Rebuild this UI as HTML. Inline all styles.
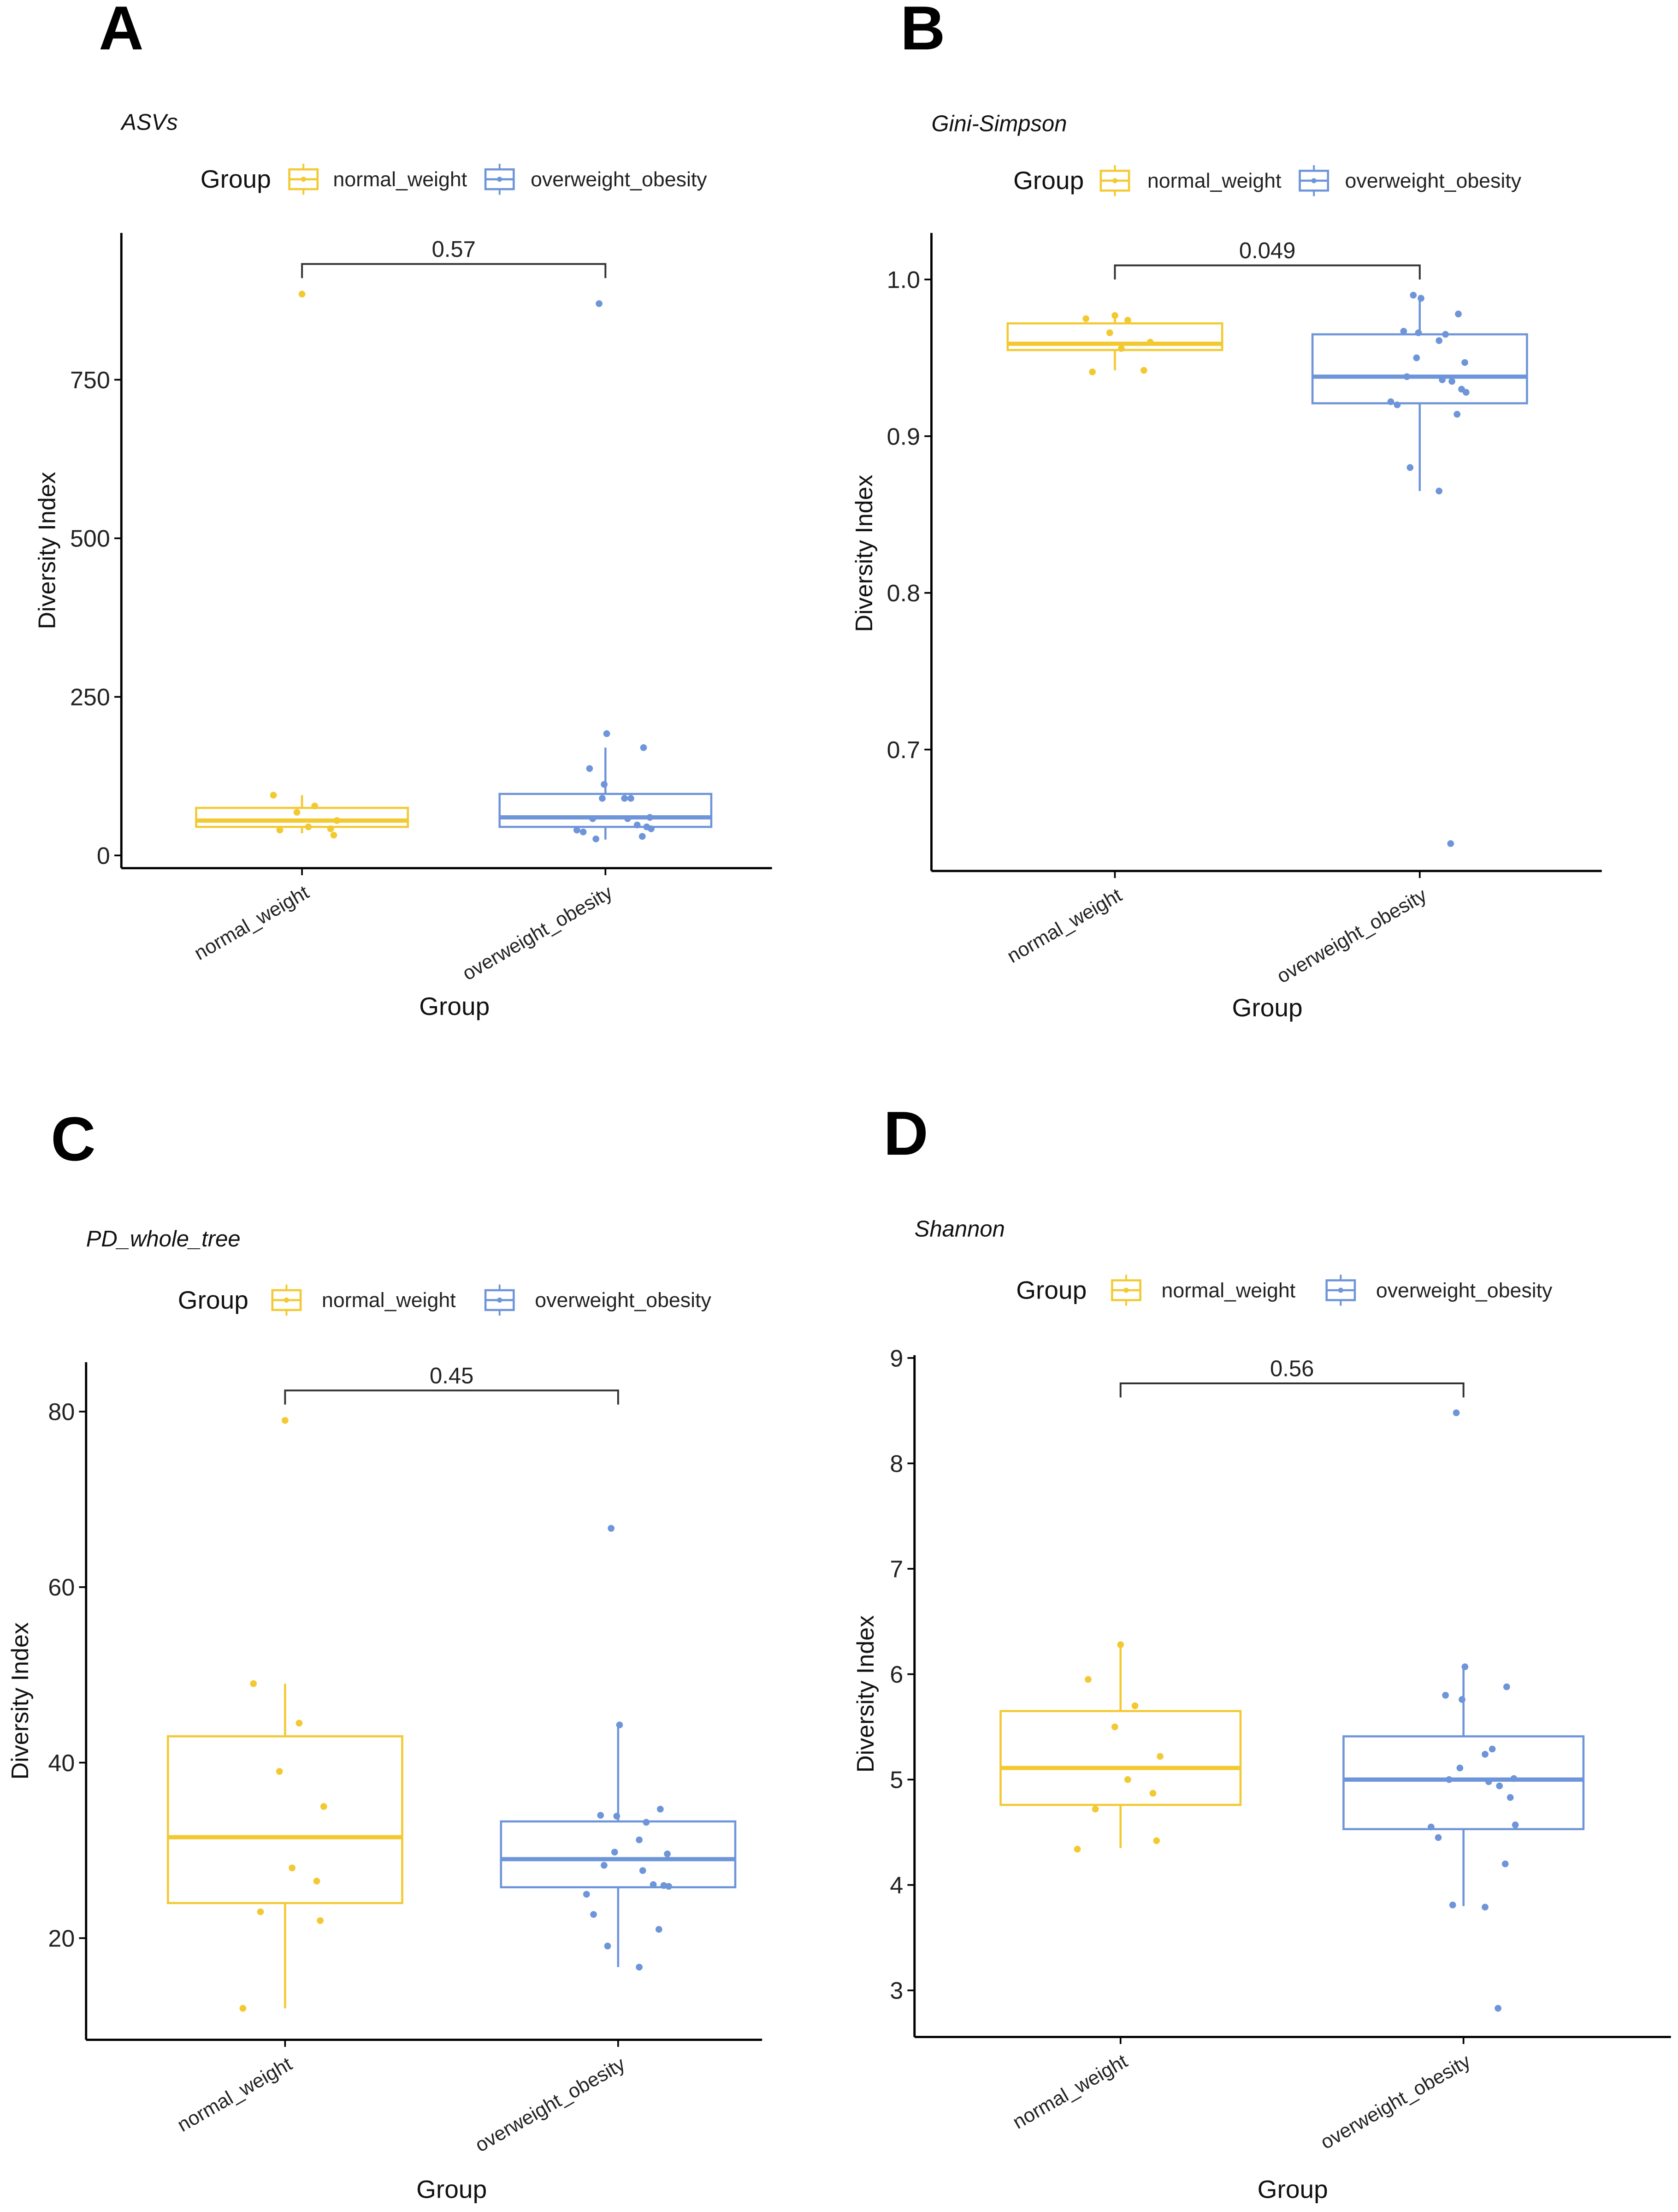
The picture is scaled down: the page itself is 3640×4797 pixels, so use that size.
<!DOCTYPE html>
<html><head><meta charset="utf-8"><style>
html,body{margin:0;padding:0;background:#fff;}
svg{display:block;font-family:"Liberation Sans",sans-serif;}
</style></head><body>
<svg id="fig" width="3640" height="4797" viewBox="0 0 1189 1567" preserveAspectRatio="none" xmlns="http://www.w3.org/2000/svg"></svg>
<script>
// ---- data: group categories ----
const groups = ["normal_weight", "overweight_obesity"];
// ---- Panel A: ASVs ----
const asvNormal = [885, 95, 78, 68, 55, 45, 42, 40, 32];
const asvOver = [870, 192, 170, 137, 112, 90, 90, 90, 60, 58, 58, 48, 45, 42, 40, 37, 30, 26];
const asvBoxNormal = [35, 45, 55, 75, 95];   // lo, q1, med, q3, hi
const asvBoxOver = [25, 45, 60, 97, 170];
const asvTicks = [0, 250, 500, 750];
const asvP = "0.57";
// ---- Panel B: Gini-Simpson ----
const giniNormal = [0.977, 0.975, 0.974, 0.966, 0.960, 0.956, 0.942, 0.941];
const giniOver = [0.990, 0.988, 0.978, 0.967, 0.966, 0.965, 0.961, 0.950, 0.947, 0.938, 0.936, 0.935, 0.930, 0.928, 0.922, 0.920, 0.914, 0.880, 0.865, 0.640];
const giniBoxNormal = [0.942, 0.955, 0.959, 0.972, 0.977];
const giniBoxOver = [0.865, 0.921, 0.938, 0.965, 0.990];
const giniTicks = [0.7, 0.8, 0.9, 1.0];
const giniTickLabels = ["0.7", "0.8", "0.9", "1.0"];
const giniP = "0.049";
// ---- Panel C: PD_whole_tree ----
const pdNormal = [79, 49, 44.5, 39, 35, 28, 26.5, 23, 22, 12];
const pdOver = [66.7, 44.3, 34.7, 34, 33.9, 33.2, 31.2, 29.8, 29.6, 28.3, 27.7, 26.1, 26, 25.9, 25, 22.7, 21, 19.1, 16.7];
const pdBoxNormal = [12, 24, 31.5, 43, 49];
const pdBoxOver = [16.7, 25.8, 29, 33.3, 44];
const pdTicks = [20, 40, 60, 80];
const pdP = "0.45";
// ---- Panel D: Shannon ----
const shNormal = [6.28, 5.95, 5.70, 5.50, 5.22, 5.00, 4.87, 4.72, 4.42, 4.34];
const shOver = [8.48, 6.07, 5.88, 5.80, 5.76, 5.29, 5.24, 5.11, 5.01, 5.00, 4.98, 4.94, 4.83, 4.57, 4.55, 4.45, 4.20, 3.81, 3.79, 2.83];
const shBoxNormal = [4.35, 4.76, 5.11, 5.65, 6.28];
const shBoxOver = [3.80, 4.53, 5.00, 5.41, 6.07];
const shTicks = [3, 4, 5, 6, 7, 8, 9];
const shP = "0.56";
// jitter (fraction of box half-width)
const jitN = [0, -0.45, 0.2, -0.08, 0.55, 0.1, 0.45, -0.35, 0.5, -0.6];
const jitO = [-0.1, 0.02, 0.6, -0.25, -0.02, 0.4, 0.3, -0.05, 0.7, -0.2, 0.35, 0.5, 0.65, 0.72, -0.45, -0.35, 0.58, -0.15, 0.3, 0.48];

const NS = "http://www.w3.org/2000/svg";
const svg = document.getElementById("fig");
const YEL = "#F3C932", BLU = "#6E95D9";
function mk(tag, attrs, parent) {
  const e = document.createElementNS(NS, tag);
  for (const k in attrs) e.setAttribute(k, attrs[k]);
  (parent || svg).appendChild(e);
  return e;
}
function txt(s, attrs, parent) { const t = mk("text", attrs, parent); t.textContent = s; return t; }

function panel(cfg) {
  const g = mk("g", {});
  
  
  const yScale = v => cfg.y0px + (v - cfg.v0) * (cfg.y1px - cfg.y0px) / (cfg.v1 - cfg.v0);
  const xs = cfg.cx;
  const L = txt(cfg.letter, {x: cfg.lx, y: cfg.ly, "font-size": 44, "font-weight": "bold", fill: "#000"}, g);
  
  
  const T = txt(cfg.title, {x: cfg.ax, y: cfg.ty, "font-size": 16, "font-style": "italic", fill: "#111"}, g);
  
  
  const lg = mk("g", {}, g);
  
  
  const ly = cfg.legY;
  txt("Group", {x: cfg.leg[0], y: ly + 6, "font-size": 18, fill: "#111"}, lg);
  [[cfg.leg[1], YEL, groups[0], cfg.leg[2]], [cfg.leg[3], BLU, groups[1], cfg.leg[4]]].forEach(([kx, col, lab, tx]) => {
    const k = mk("g", {}, lg);
    
    
    mk("rect", {x: kx, y: ly - 7, width: 20, height: 14, fill: "none", stroke: col, "stroke-width": 1.5}, k);
    mk("line", {x1: kx + 10, x2: kx + 10, y1: ly - 11, y2: ly - 7, stroke: col, "stroke-width": 1.3}, k);
    mk("line", {x1: kx + 10, x2: kx + 10, y1: ly + 7, y2: ly + 11, stroke: col, "stroke-width": 1.3}, k);
    mk("line", {x1: kx, x2: kx + 20, y1: ly, y2: ly, stroke: col, "stroke-width": 1.5}, k);
    mk("circle", {cx: kx + 10, cy: ly, r: 1.8, fill: col}, k);
    txt(lab, {x: tx, y: ly + 5, "font-size": 14.6, fill: "#222"}, k);
  });
  const ax = mk("g", {}, g);
  
  
  mk("line", {x1: cfg.ax, x2: cfg.ax, y1: cfg.axTop, y2: cfg.axY, stroke: "#000", "stroke-width": 1.6}, ax);
  cfg.ticks.forEach((v, i) => {
    const y = yScale(v);
    mk("line", {x1: cfg.ax - 5, x2: cfg.ax, y1: y, y2: y, stroke: "#000", "stroke-width": 1.2}, ax);
    txt(cfg.tickLabels ? cfg.tickLabels[i] : String(v), {x: cfg.ax - 8, y: y + 6, "font-size": 17, "text-anchor": "end", fill: "#222"}, ax);
  });
  const yt = txt("Diversity Index", {x: cfg.ytx, y: cfg.yty, "font-size": 17, "text-anchor": "middle", fill: "#111", transform: `rotate(-90 ${cfg.ytx} ${cfg.yty})`}, g);
  
  
  const xa = mk("g", {}, g);
  
  
  mk("line", {x1: cfg.ax, x2: cfg.axR, y1: cfg.axY, y2: cfg.axY, stroke: "#000", "stroke-width": 1.6}, xa);
  groups.forEach((lab, i) => {
    mk("line", {x1: xs[i], x2: xs[i], y1: cfg.axY, y2: cfg.axY + 5, stroke: "#000", "stroke-width": 1.2}, xa);
    const tx = xs[i] + 6, ty = cfg.axY + 20;
    txt(lab, {x: tx, y: ty, "font-size": 14, "text-anchor": "end", fill: "#222", transform: `rotate(-30 ${tx} ${ty})`}, xa);
  });
  const xt = txt("Group", {x: cfg.xtx, y: cfg.xty, "font-size": 18, "text-anchor": "middle", fill: "#111"}, g);
  
  
  [[cfg.boxN, cfg.ptsN, YEL, jitN], [cfg.boxO, cfg.ptsO, BLU, jitO]].forEach(([b, pts, col, jit], i) => {
    const bg = mk("g", {}, g);
    
    
    const c = xs[i], hw = cfg.hw;
    mk("line", {x1: c, x2: c, y1: yScale(b[0]), y2: yScale(b[1]), stroke: col, "stroke-width": 1.5}, bg);
    mk("line", {x1: c, x2: c, y1: yScale(b[3]), y2: yScale(b[4]), stroke: col, "stroke-width": 1.5}, bg);
    mk("rect", {x: c - hw, y: yScale(b[3]), width: 2 * hw, height: yScale(b[1]) - yScale(b[3]), fill: "none", stroke: col, "stroke-width": 1.5}, bg);
    mk("line", {x1: c - hw, x2: c + hw, y1: yScale(b[2]), y2: yScale(b[2]), stroke: col, "stroke-width": 3}, bg);
    pts.forEach((v, j) => {
      const p = mk("circle", {cx: c + jit[j % jit.length] * hw * 0.6, cy: yScale(v), r: 2.4, fill: col}, bg);
      
      
    });
  });
  const br = mk("g", {}, g);
  
  
  mk("polyline", {points: `${xs[0]},${cfg.brY + 10} ${xs[0]},${cfg.brY} ${xs[1]},${cfg.brY} ${xs[1]},${cfg.brY + 10}`, fill: "none", stroke: "#333", "stroke-width": 1.3}, br);
  txt(cfg.p, {x: (xs[0] + xs[1]) / 2, y: cfg.brY - 5, "font-size": 16, "text-anchor": "middle", fill: "#222"}, br);
}

panel({name: "panel-a-asvs", letter: "A", lx: 70, ly: 35, title: "ASVs", ty: 92, legY: 127, leg: [142, 205, 236, 344, 376],
  ax: 86, axTop: 165, axY: 615, axR: 547, v0: 0, v1: 750, y0px: 606, y1px: 269, ticks: asvTicks,
  cx: [214, 429], hw: 75, boxN: asvBoxNormal, boxO: asvBoxOver, ptsN: asvNormal, ptsO: asvOver,
  brY: 187, p: asvP, ytx: 39, yty: 390, xtx: 322, xty: 719});
panel({name: "panel-b-gini-simpson", letter: "B", lx: 638, ly: 35, title: "Gini-Simpson", ty: 93, legY: 128, leg: [718, 780, 813, 921, 953],
  ax: 660, axTop: 165, axY: 617, axR: 1135, v0: 0.7, v1: 1.0, y0px: 531, y1px: 198, ticks: giniTicks, tickLabels: giniTickLabels,
  cx: [790, 1006], hw: 76, boxN: giniBoxNormal, boxO: giniBoxOver, ptsN: giniNormal, ptsO: giniOver,
  brY: 188, p: giniP, ytx: 618, yty: 392, xtx: 898, xty: 720});
panel({name: "panel-c-pd-whole-tree", letter: "C", lx: 36, ly: 822, title: "PD_whole_tree", ty: 883, legY: 921, leg: [126, 193, 228, 344, 379],
  ax: 61, axTop: 965, axY: 1445, axR: 540, v0: 20, v1: 80, y0px: 1373, y1px: 1000, ticks: pdTicks,
  cx: [202, 438], hw: 83, boxN: pdBoxNormal, boxO: pdBoxOver, ptsN: pdNormal, ptsO: pdOver,
  brY: 985, p: pdP, ytx: 20, yty: 1205, xtx: 320, xty: 1557});
panel({name: "panel-d-shannon", letter: "D", lx: 626, ly: 818, title: "Shannon", ty: 876, legY: 914, leg: [720, 788, 823, 940, 975],
  ax: 648, axTop: 960, axY: 1443, axR: 1184, v0: 3, v1: 9, y0px: 1410, y1px: 962, ticks: shTicks,
  cx: [794, 1037], hw: 85, boxN: shBoxNormal, boxO: shBoxOver, ptsN: shNormal, ptsO: shOver,
  brY: 980, p: shP, ytx: 619, yty: 1200, xtx: 916, xty: 1557});
</script>
</body></html>
